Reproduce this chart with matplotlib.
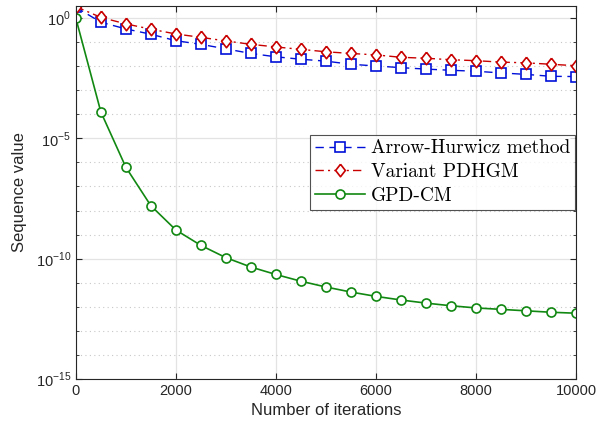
import numpy as np
import matplotlib
matplotlib.use('Agg')
import matplotlib.pyplot as plt
from matplotlib.ticker import NullFormatter, FixedLocator

plt.rcParams['font.family'] = ['Liberation Sans', 'DejaVu Sans']
plt.rcParams['mathtext.fontset'] = 'custom'
plt.rcParams['mathtext.rm'] = 'Liberation Sans'

# Iteration counts
iterations = np.arange(0, 10001, 500)

# log10 of the sequence values
arrow_hurwicz_log = [0.45, -0.17, -0.45, -0.67, -0.94, -1.09, -1.28, -1.47, -1.61, -1.71,
                     -1.79, -1.92, -1.99, -2.06, -2.12, -2.17, -2.21, -2.28, -2.34, -2.42, -2.43]
variant_pdhgm_log = [0.48, 0.03, -0.24, -0.46, -0.66, -0.80, -0.95, -1.09, -1.20, -1.30,
                     -1.40, -1.47, -1.53, -1.63, -1.67, -1.73, -1.77, -1.83, -1.86, -1.92, -1.98]
gpd_cm_log = [0.0, -3.9, -6.2, -7.8, -8.81, -9.45, -9.96, -10.35, -10.66, -10.94,
              -11.18, -11.39, -11.57, -11.72, -11.85, -11.96, -12.05, -12.11, -12.17, -12.23, -12.27]

labels = ['Arrow-Hurwicz method', 'Variant PDHGM', 'GPD-CM']
colors = ['#0010d8', '#c80000', '#118811']

# MATLAB-like diamond, a bit taller than wide
diamond = [(0, 1), (0.78, 0), (0, -1), (-0.78, 0), (0, 1)]

fig = plt.figure(figsize=(5.97, 4.34), dpi=100)
ax = fig.add_axes([0.127, 0.127, 0.838, 0.859])

ax.semilogy(iterations, 10.0 ** np.array(arrow_hurwicz_log), linestyle=(0, (6, 4)),
            color=colors[0], marker='s', markersize=6.5, markerfacecolor='white',
            markeredgewidth=1.2, linewidth=1.0, label=labels[0])
ax.semilogy(iterations, 10.0 ** np.array(variant_pdhgm_log), linestyle=(0, (6, 3, 1.5, 3)),
            color=colors[1], marker=diamond, markersize=9, markerfacecolor='white',
            markeredgewidth=1.2, linewidth=1.0, label=labels[1])
ax.semilogy(iterations, 10.0 ** np.array(gpd_cm_log), linestyle='-',
            color=colors[2], marker='o', markersize=6.5, markerfacecolor='white',
            markeredgewidth=1.2, linewidth=1.2, label=labels[2])

ax.set_xlim(0, 10000)
ax.set_ylim(1e-15, 10 ** 0.5)
ax.set_xticks([0, 2000, 4000, 6000, 8000, 10000])
ax.yaxis.set_major_locator(FixedLocator([1e-15, 1e-10, 1e-5, 1e0]))
ax.yaxis.set_minor_locator(FixedLocator([10.0 ** k for k in range(-14, 1) if k % 5 != 0]))
ax.yaxis.set_minor_formatter(NullFormatter())
ax.set_yticklabels([r'$10^{-15}$', r'$10^{-10}$', r'$10^{-5}$', r'$10^{0}$'])

ax.grid(True, which='major', color='#e3e3e3', linewidth=0.9)
ax.grid(True, which='minor', axis='y', color='#c8c8c8', linestyle=(0, (1, 3)), linewidth=0.8)
ax.set_axisbelow(True)

ax.tick_params(which='both', direction='in', top=True, right=True, labelsize=10.5,
               colors='#262626')
ax.tick_params(which='major', length=4)
ax.tick_params(which='minor', length=2.5)
for s in ax.spines.values():
    s.set_color('#262626')
    s.set_linewidth(0.8)

ax.set_xlabel('Number of iterations', fontsize=12, color='#262626')
ax.set_ylabel('Sequence value', fontsize=12, color='#262626', labelpad=6)

leg = ax.legend(loc='upper right', bbox_to_anchor=(0.998, 0.655), prop={'family': 'cmr10', 'size': 14},
                frameon=True, fancybox=False, edgecolor='#262626', handlelength=2.6,
                borderpad=0.25, labelspacing=0.3, handletextpad=0.3, borderaxespad=0)
leg.get_frame().set_linewidth(0.8)

fig.savefig('out.png', dpi=100)
